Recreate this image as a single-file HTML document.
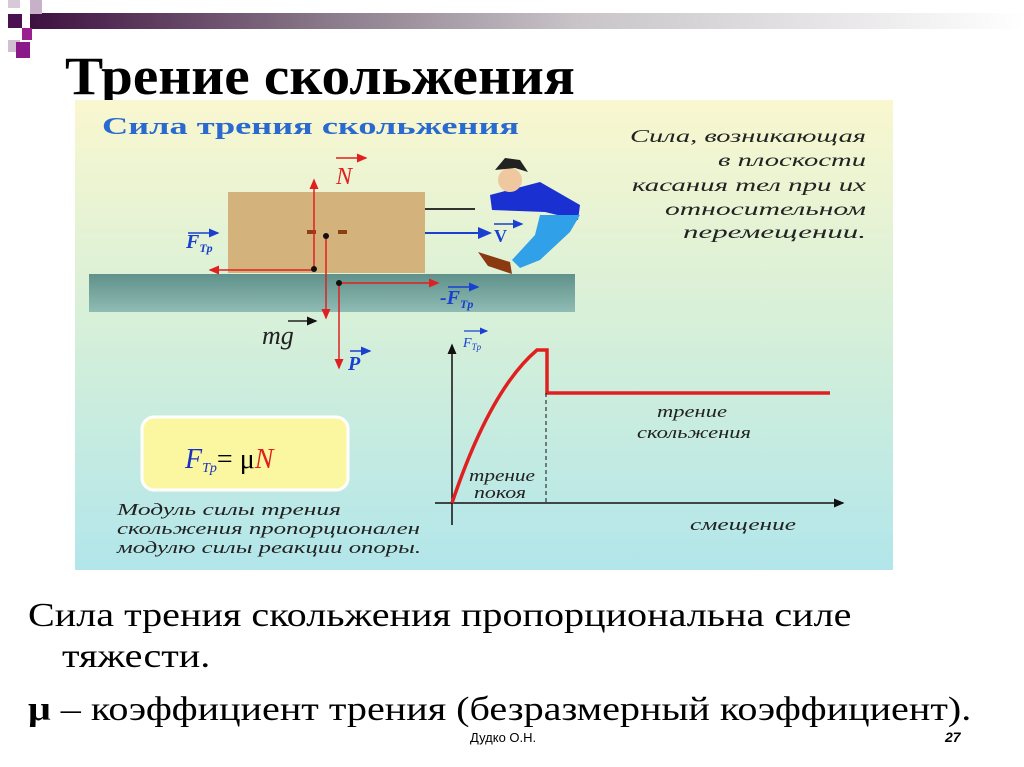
<!DOCTYPE html>
<html><head><meta charset="utf-8"><style>
body{margin:0;width:1024px;height:767px;background:#fff;position:relative;overflow:hidden;font-family:"Liberation Serif",serif}
.a{position:absolute}
.t{font-size:34px;line-height:40px;transform-origin:left top;white-space:nowrap}
</style></head><body>
<div class="a" style="left:30px;top:13px;width:994px;height:16px;background:linear-gradient(90deg,#3e1040,#8a7a8a 30%,#c8c4c8 55%,#fff 100%)"></div>
<div class="a" style="left:8px;top:0;width:12px;height:8px;background:#d8c8d8"></div>
<div class="a" style="left:30px;top:0;width:12px;height:14px;background:#c8b0c8"></div>
<div class="a" style="left:8px;top:14px;width:14px;height:14px;background:#4a1050"></div>
<div class="a" style="left:22px;top:28px;width:10px;height:12px;background:#9a2090"></div>
<div class="a" style="left:8px;top:40px;width:12px;height:12px;background:#d0c0d0"></div>
<div class="a" style="left:16px;top:42px;width:14px;height:16px;background:#8a1888"></div>
<div class="a" style="left:65px;top:46px;font-size:54px;font-weight:bold;line-height:60px;transform:scaleX(1.06);transform-origin:left;white-space:nowrap">Трение скольжения</div>
<svg class="a" style="left:0;top:0" width="1024" height="767">
<defs>
<linearGradient id="bg" x1="0" y1="0" x2="0" y2="1"><stop offset="0" stop-color="#f9f7cf"/><stop offset="0.45" stop-color="#d8f0d8"/><stop offset="1" stop-color="#b2e6ea"/></linearGradient>
<linearGradient id="gr" x1="0" y1="0" x2="0" y2="1"><stop offset="0" stop-color="#5f918a"/><stop offset="1" stop-color="#8fbcb4"/></linearGradient>
<marker id="r" markerWidth="8" markerHeight="8" refX="6" refY="4" orient="auto"><path d="M0,1 L7,4 L0,7z" fill="#e02020"/></marker>
<marker id="b" markerWidth="8" markerHeight="8" refX="6" refY="4" orient="auto"><path d="M0,1 L7,4 L0,7z" fill="#1a40d0"/></marker>
<marker id="k" markerWidth="8" markerHeight="8" refX="6" refY="4" orient="auto"><path d="M0,1 L7,4 L0,7z" fill="#111"/></marker>
</defs>
<rect x="75" y="100" width="818" height="470" fill="url(#bg)"/>
<text x="102" y="134" font-family="Liberation Serif" font-weight="bold" font-size="24" fill="#2a6ad0" textLength="417" lengthAdjust="spacingAndGlyphs">Сила трения скольжения</text>
<g font-family="Liberation Serif" font-style="italic" font-size="18" fill="#222" text-anchor="end">
<text x="866" y="142" textLength="236" lengthAdjust="spacingAndGlyphs">Сила, возникающая</text><text x="866" y="166" textLength="148" lengthAdjust="spacingAndGlyphs">в плоскости</text><text x="866" y="191" textLength="234" lengthAdjust="spacingAndGlyphs">касания тел при их</text><text x="866" y="215" textLength="201" lengthAdjust="spacingAndGlyphs">относительном</text><text x="866" y="238" textLength="183" lengthAdjust="spacingAndGlyphs">перемещении.</text></g>
<rect x="89" y="274" width="486" height="38" fill="url(#gr)"/>
<rect x="228" y="192" width="197" height="81" fill="#d3b27c"/>
<line x1="425" y1="209" x2="475" y2="209" stroke="#333" stroke-width="2"/>
<line x1="425" y1="233" x2="490" y2="233" stroke="#1a40d0" stroke-width="2" marker-end="url(#b)"/>
<text x="494" y="242" font-size="18" font-weight="bold" fill="#1a40d0">V</text>
<line x1="494" y1="224" x2="522" y2="224" stroke="#1a40d0" stroke-width="1.5" marker-end="url(#b)"/>
<path d="M490,195 L540,182 L580,205 L578,220 L545,212 L492,210z" fill="#1a30d0"/>
<path d="M540,215 L580,215 L570,232 L540,260 L520,268 L512,260 L535,235z" fill="#30a0e8"/>
<path d="M478,252 L510,262 L512,274 L488,266z" fill="#8a3a10"/>
<circle cx="510" cy="180" r="12" fill="#f0c8a0"/>
<path d="M495,170 L505,158 L520,160 L528,172 L515,168z" fill="#222"/>
<rect x="307" y="230" width="9" height="4" fill="#8a4010"/><rect x="338" y="230" width="9" height="4" fill="#8a4010"/>
<line x1="314" y1="270" x2="314" y2="180" stroke="#e02020" stroke-width="1.5" marker-end="url(#r)"/>
<line x1="314" y1="270" x2="210" y2="270" stroke="#e02020" stroke-width="1.5" marker-end="url(#r)"/>
<line x1="326" y1="236" x2="326" y2="318" stroke="#e02020" stroke-width="1.5" marker-end="url(#r)"/>
<line x1="339" y1="283" x2="438" y2="283" stroke="#e02020" stroke-width="1.5" marker-end="url(#r)"/>
<line x1="339" y1="283" x2="339" y2="368" stroke="#e02020" stroke-width="1.5" marker-end="url(#r)"/>
<circle cx="314" cy="269" r="3" fill="#111"/><circle cx="326" cy="236" r="3" fill="#111"/><circle cx="339" cy="283" r="3" fill="#111"/>
<g font-family="Liberation Serif" font-style="italic" font-size="24">
<text x="336" y="184" fill="#e02020">N</text><line x1="336" y1="158" x2="366" y2="158" stroke="#e02020" stroke-width="1.5" marker-end="url(#r)"/>
<text x="186" y="248" fill="#1a40d0" font-weight="bold" font-size="20">F<tspan font-size="12" dy="4">Tp</tspan></text><line x1="188" y1="233" x2="218" y2="233" stroke="#1a40d0" stroke-width="1.5" marker-end="url(#b)"/>
<text x="440" y="304" fill="#1a40d0" font-weight="bold" font-size="20">-F<tspan font-size="12" dy="4">Tp</tspan></text><line x1="448" y1="287" x2="478" y2="287" stroke="#1a40d0" stroke-width="1.5" marker-end="url(#b)"/>
<text x="262" y="344" fill="#222" font-size="26">mg</text><line x1="288" y1="321" x2="316" y2="321" stroke="#222" stroke-width="1.5" marker-end="url(#k)"/>
<text x="348" y="370" fill="#1a40d0" font-weight="bold" font-size="20">P</text><line x1="350" y1="351" x2="370" y2="351" stroke="#1a40d0" stroke-width="1.5" marker-end="url(#b)"/>
<text x="463" y="347" fill="#1a40d0" font-size="14">F<tspan font-size="9" dy="3">Tp</tspan></text><line x1="464" y1="331" x2="487" y2="331" stroke="#1a40d0" stroke-width="1.2" marker-end="url(#b)"/>
</g>
<line x1="452" y1="525" x2="452" y2="345" stroke="#111" stroke-width="1.5" marker-end="url(#k)"/>
<line x1="435" y1="503" x2="843" y2="503" stroke="#111" stroke-width="1.5" marker-end="url(#k)"/>
<path d="M452,503 Q490,390 537,350 L547,350 L547,393 L830,393" fill="none" stroke="#e02020" stroke-width="3.5"/>
<line x1="546" y1="393" x2="546" y2="503" stroke="#111" stroke-width="1" stroke-dasharray="4,3"/>
<g font-family="Liberation Serif" font-style="italic" font-size="17" fill="#222" text-anchor="middle">
<text x="692" y="417" textLength="70" lengthAdjust="spacingAndGlyphs">трение</text><text x="694" y="438" textLength="114" lengthAdjust="spacingAndGlyphs">скольжения</text>
<text x="502" y="481" textLength="66" lengthAdjust="spacingAndGlyphs">трение</text><text x="500" y="498" textLength="52" lengthAdjust="spacingAndGlyphs">покоя</text>
<text x="743" y="530" textLength="106" lengthAdjust="spacingAndGlyphs">смещение</text>
</g>
<g font-family="Liberation Serif" font-style="italic" font-size="17" fill="#222">
<text x="117" y="515" textLength="224" lengthAdjust="spacingAndGlyphs">Модуль силы трения</text><text x="117" y="534" textLength="303" lengthAdjust="spacingAndGlyphs">скольжения пропорционален</text><text x="117" y="553" textLength="304" lengthAdjust="spacingAndGlyphs">модулю силы реакции опоры.</text>
</g>
<rect x="142" y="417" width="206" height="73" rx="12" fill="#fbf7a0" stroke="#fff" stroke-width="3"/>
<text x="185" y="468" font-size="28" font-family="Liberation Serif"><tspan fill="#1a30c0" font-style="italic">F</tspan><tspan fill="#1a30c0" font-style="italic" font-size="14" dy="4">Tp</tspan><tspan dy="-4">= μ</tspan><tspan fill="#e02020" font-style="italic">N</tspan></text>
</svg>
<div class="a t" style="left:28px;top:596px;transform:scaleX(1.18)">Сила трения скольжения пропорциональна силе</div>
<div class="a t" style="left:62px;top:637px;transform:scaleX(1.18)">тяжести.</div>
<div class="a t" style="left:28px;top:690px;transform:scaleX(1.18)"><b>μ</b> – коэффициент трения (безразмерный коэффициент).</div>
<div class="a" style="left:470px;top:730px;font-family:'Liberation Sans',sans-serif;font-size:13px">Дудко О.Н.</div>
<div class="a" style="left:945px;top:729px;font-family:'Liberation Sans',sans-serif;font-size:14px;font-weight:bold;font-style:italic">27</div>
</body></html>
